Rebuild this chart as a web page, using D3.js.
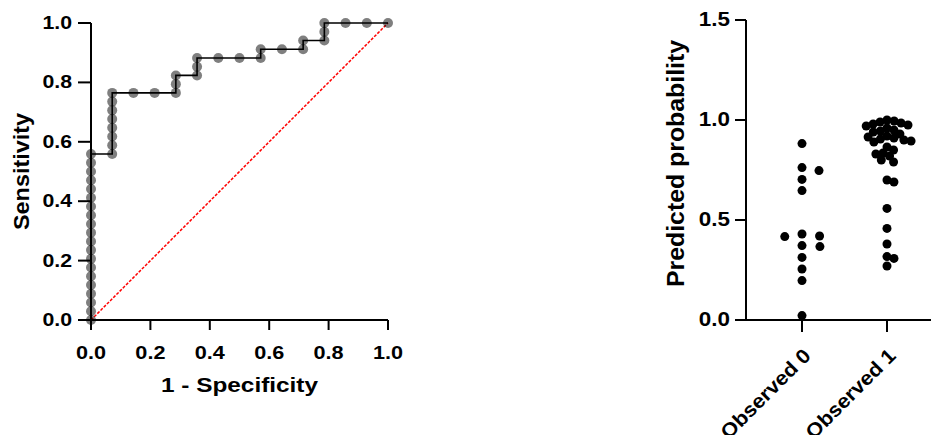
<!DOCTYPE html>
<html><head><meta charset="utf-8">
<script src="https://cdn.jsdelivr.net/npm/d3@7"></script>
<style>
body{margin:0;background:#fff}
svg{display:block;background:#fff}
text{font-family:"Liberation Sans",Arial,Helvetica,sans-serif;font-weight:bold;fill:#000}
</style>
</head><body>
<svg id="chart" width="931" height="435"></svg>
<script>
// ---- ROC curve data (1 - specificity, sensitivity) ----
const rocFPR = [0,0,0,0,0,0,0,0,0,0,0,0,0,0,0,0,0,0,0,0,
  0.0714,0.0714,0.0714,0.0714,0.0714,0.0714,0.0714,0.0714,
  0.1429,0.2143,0.2857,0.2857,0.2857,
  0.3571,0.3571,0.3571,
  0.4286,0.5,0.5714,0.5714,
  0.6429,0.7143,0.7143,
  0.7857,0.7857,0.7857,
  0.8571,0.9286,1];
const rocTPR = [0,0.0294,0.0588,0.0882,0.1176,0.1471,0.1765,0.2059,0.2353,0.2647,0.2941,0.3235,0.3529,0.3824,0.4118,0.4412,0.4706,0.5,0.5294,0.5588,
  0.5588,0.5882,0.6176,0.6471,0.6765,0.7059,0.7353,0.7647,
  0.7647,0.7647,0.7647,0.7941,0.8235,
  0.8235,0.8529,0.8824,
  0.8824,0.8824,0.8824,0.9118,
  0.9118,0.9118,0.9412,
  0.9412,0.9706,1,
  1,1,1];
const rocTicks = [0,0.2,0.4,0.6,0.8,1.0];
const rocXTitle = "1 - Specificity";
const rocYTitle = "Sensitivity";

// ---- Predicted probability scatter ----
const groupNames = ["Observed 0","Observed 1"];
const observed0 = [0.882,0.762,0.747,0.703,0.647,0.43,0.42,0.417,0.372,0.367,0.313,0.255,0.197,0.022];
const observed1 = [1.0,0.995,0.99,0.985,0.98,0.975,0.97,0.96,0.95,0.945,0.94,0.93,0.92,0.915,0.91,0.905,0.9,0.895,0.89,
  0.865,0.85,0.835,0.83,0.82,0.8,0.79,
  0.7,0.69,0.558,0.458,0.38,0.317,0.308,0.27];
const probTicks = [0,0.5,1.0,1.5];
const probYTitle = "Predicted probability";

const FONT = '"Liberation Sans",Arial,Helvetica,sans-serif';
const svg = d3.select("#chart");

function styleAxis(g, fs){
  g.attr("font-family", FONT).attr("font-size", fs).attr("font-weight", "bold");
  g.selectAll(".domain").attr("stroke", "#000").attr("stroke-width", 2);
  g.selectAll(".tick line").attr("stroke", "#000").attr("stroke-width", 2);
  g.selectAll(".tick text").attr("fill", "#000");
}
function stretch(sel, f){
  sel.each(function(){
    const L = this.getComputedTextLength();
    this.setAttribute("textLength", (L*f).toFixed(2));
    this.setAttribute("lengthAdjust", "spacingAndGlyphs");
  });
}

// ================= Left: ROC =================
const x = d3.scaleLinear().domain([0,1]).range([91,388]);
const y = d3.scaleLinear().domain([0,1]).range([320,23]);

svg.append("line")
  .attr("x1", x(0)).attr("y1", y(0)).attr("x2", x(1)).attr("y2", y(1))
  .attr("stroke", "#ff0000").attr("stroke-width", 1.5).attr("stroke-dasharray", "3,1.5");

const rocPts = rocFPR.map((f,i)=>({f, t: rocTPR[i]}));

svg.append("g").selectAll("circle").data(rocPts).join("circle")
  .attr("cx", d=>x(d.f)).attr("cy", d=>y(d.t)).attr("r", 5)
  .attr("fill", "#000").attr("fill-opacity", 0.5);

svg.append("path").datum(rocPts)
  .attr("fill", "none").attr("stroke", "#000").attr("stroke-width", 1.6)
  .attr("d", d3.line().x(d=>x(d.f)).y(d=>y(d.t)));

const gxL = svg.append("g").attr("transform", `translate(0,${y(0)})`)
  .call(d3.axisBottom(x).tickValues(rocTicks).tickFormat(d3.format(".1f")).tickSize(10).tickSizeOuter(0).offset(0));
styleAxis(gxL, 19);
gxL.selectAll(".tick text").attr("y", 39).attr("dy", null);
stretch(gxL.selectAll(".tick text"), 1.14);

const gyL = svg.append("g").attr("transform", `translate(${x(0)},0)`)
  .call(d3.axisLeft(y).tickValues(rocTicks).tickFormat(d3.format(".1f")).tickSize(13).tickPadding(6).tickSizeOuter(0).offset(0));
styleAxis(gyL, 19);
stretch(gyL.selectAll(".tick text"), 1.12);

svg.append("text").text(rocXTitle)
  .attr("x", (x(0)+x(1))/2).attr("y", 392).attr("text-anchor", "middle")
  .attr("font-size", 20).attr("textLength", 157).attr("lengthAdjust", "spacingAndGlyphs");

svg.append("text").text(rocYTitle)
  .attr("transform", `translate(29,${(y(0)+y(1))/2}) rotate(-90)`)
  .attr("text-anchor", "middle")
  .attr("font-size", 22).attr("textLength", 117).attr("lengthAdjust", "spacingAndGlyphs");

// ================= Right: scatter =================
const xb = d3.scalePoint().domain(groupNames).range([746,943]).padding(0.659);
const yb = d3.scaleLinear().domain([0,1.5]).range([320,20]);
const R = 4.5;

// simple beeswarm: place each dot at the horizontal offset closest to centre that avoids overlap
function swarm(values, D){
  const sorted = values.map(v=>({v, y: yb(v)})).sort((a,b)=>b.v-a.v);
  const placed = [];
  for (const p of sorted){
    const near = placed.filter(q=>Math.abs(q.y-p.y) < D);
    const cands = [0];
    near.forEach(q=>{
      const w = Math.sqrt(D*D - (q.y-p.y)**2);
      cands.push(q.dx + w + 0.01, q.dx - w - 0.01);
    });
    cands.sort((a,b)=>Math.abs(a)-Math.abs(b) || b-a);
    for (const c of cands){
      if (near.every(q=>Math.hypot(q.dx-c, q.y-p.y) >= D - 0.02)){ p.dx = c; break; }
    }
    placed.push(p);
  }
  return placed;
}
const swarms = [
  {name: groupNames[0], pts: swarm(observed0, 9), k: 2.0},
  {name: groupNames[1], pts: swarm(observed1, 7.2), k: 1.0}
];
swarms.forEach(s=>{
  svg.append("g").selectAll("circle").data(s.pts).join("circle")
    .attr("cx", d=>xb(s.name) + d.dx*s.k).attr("cy", d=>d.y).attr("r", R).attr("fill", "#000");
});

const gyR = svg.append("g").attr("transform", `translate(746,0)`)
  .call(d3.axisLeft(yb).tickValues(probTicks).tickFormat(d3.format(".1f")).tickSize(11).tickPadding(5).tickSizeOuter(0).offset(0));
styleAxis(gyR, 19.5);
stretch(gyR.selectAll(".tick text"), 1.15);

const gxR = svg.append("g").attr("transform", `translate(0,${yb(0)})`)
  .call(d3.axisBottom(xb).tickSize(12).tickSizeOuter(0).offset(0));
styleAxis(gxR, 20);
gxR.selectAll(".tick text")
  .attr("y", null).attr("dy", null)
  .attr("text-anchor", "end")
  .attr("transform", "translate(10,37) rotate(-45)");
stretch(gxR.selectAll(".tick text"), 1.08);

svg.append("text").text(probYTitle)
  .attr("transform", `translate(684,163.5) rotate(-90)`)
  .attr("text-anchor", "middle")
  .attr("font-size", 23).attr("textLength", 247).attr("lengthAdjust", "spacingAndGlyphs");
</script>
</body></html>
